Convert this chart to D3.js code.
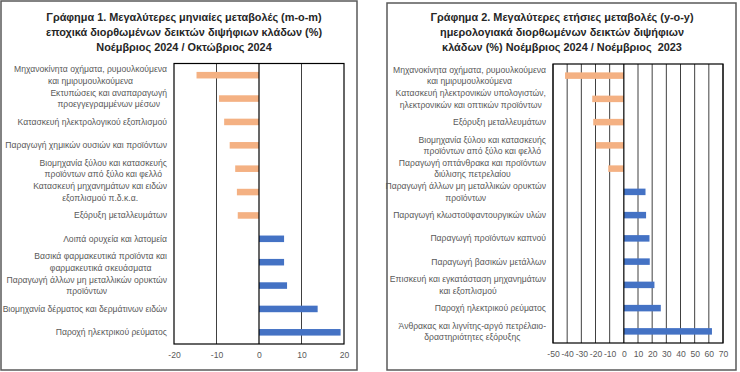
<!DOCTYPE html>
<html>
<head>
<meta charset="utf-8">
<script src="https://cdn.jsdelivr.net/npm/d3@7"></script>
<style>
  body { margin: 0; background: #fff; }
  svg { display: block; font-family: "Liberation Sans", Arial, sans-serif; }
</style>
</head>
<body>
<svg id="chart" width="740" height="372"></svg>
<script>
// Γράφημα 1 (m-o-m)
const cats1 = [
  ["Μηχανοκίνητα οχήματα, ρυμουλκούμενα", "και ημιρυμουλκούμενα"],
  ["Εκτυπώσεις και αναπαραγωγή", "προεγγεγραμμένων μέσων"],
  ["Κατασκευή ηλεκτρολογικού εξοπλισμού"],
  ["Παραγωγή χημικών ουσιών και προϊόντων"],
  ["Βιομηχανία ξύλου και κατασκευής", "προϊόντων από ξύλο και φελλό"],
  ["Κατασκευή μηχανημάτων και ειδών", "εξοπλισμού π.δ.κ.α."],
  ["Εξόρυξη μεταλλευμάτων"],
  ["Λοιπά ορυχεία και λατομεία"],
  ["Βασικά φαρμακευτικά προϊόντα και", "φαρμακευτικά σκευάσματα"],
  ["Παραγωγή άλλων μη μεταλλικών ορυκτών", "προϊόντων"],
  ["Βιομηχανία δέρματος και δερμάτινων ειδών"],
  ["Παροχή ηλεκτρικού ρεύματος"]
];
const vals1 = [-14.7, -9.4, -8.2, -6.9, -5.6, -5.2, -5.0, 5.9, 5.9, 6.6, 13.8, 19.2];
const ticks1 = [-20, -10, 0, 10, 20];
const title1 = [
  "Γράφημα 1. Μεγαλύτερες μηνιαίες μεταβολές (m-o-m)",
  "εποχικά διορθωμένων δεικτών διψήφιων κλάδων (%)",
  "Νοέμβριος 2024 / Οκτώβριος 2024"
];

// Γράφημα 2 (y-o-y)
const cats2 = [
  ["Μηχανοκίνητα οχήματα, ρυμουλκούμενα", "και ημιρυμουλκούμενα"],
  ["Κατασκευή ηλεκτρονικών υπολογιστών,", "ηλεκτρονικών και οπτικών προϊόντων"],
  ["Εξόρυξη μεταλλευμάτων"],
  ["Βιομηχανία ξύλου και κατασκευής", "προϊόντων από ξύλο και φελλό"],
  ["Παραγωγή οπτάνθρακα και προϊόντων", "διύλισης πετρελαίου"],
  ["Παραγωγή άλλων μη μεταλλικών ορυκτών", "προϊόντων"],
  ["Παραγωγή κλωστοϋφαντουργικών υλών"],
  ["Παραγωγή προϊόντων καπνού"],
  ["Παραγωγή βασικών μετάλλων"],
  ["Επισκευή και εγκατάσταση μηχανημάτων", "και εξοπλισμού"],
  ["Παροχή ηλεκτρικού ρεύματος"],
  ["Άνθρακας και λιγνίτης-αργό πετρέλαιο-", "δραστηριότητες εξόρυξης"]
];
const vals2 = [-41.5, -22.3, -21.6, -19.7, -11.0, 15.3, 15.7, 18.1, 18.3, 21.6, 26.1, 62.2];
const ticks2 = [-50, -40, -30, -20, -10, 0, 10, 20, 30, 40, 50, 60, 70];
const title2 = [
  "Γράφημα 2. Μεγαλύτερες ετήσιες μεταβολές (y-o-y)",
  "ημερολογιακά διορθωμένων δεικτών διψήφιων",
  "κλάδων (%) Νοέμβριος 2024 / Νοέμβριος  2023"
];

const svg = d3.select("#chart");

function drawPanel(cfg) {
  const g = svg.append("g");

  g.append("rect")
    .attr("x", cfg.box[0]).attr("y", cfg.box[1])
    .attr("width", cfg.box[2]).attr("height", cfg.box[3])
    .attr("fill", "#fff").attr("stroke", "#595959").attr("stroke-width", 1.5);

  g.append("text")
    .attr("x", cfg.titleX).attr("y", cfg.titleY)
    .attr("text-anchor", "middle")
    .attr("font-size", 10.9).attr("font-weight", "bold").attr("fill", "#262626")
    .style("white-space", "pre")
    .selectAll("tspan").data(cfg.title).join("tspan")
    .attr("x", cfg.titleX)
    .attr("dy", (d, i) => i ? 15 : 0)
    .text(d => d);

  const x = d3.scaleLinear().domain(d3.extent(cfg.ticks)).range([cfg.x0, cfg.x1]);
  const y = d3.scaleBand().domain(d3.range(cfg.cats.length))
    .range([cfg.y0, cfg.y1]).paddingInner(0.72).paddingOuter(0.36);

  // gridlines
  g.append("g").selectAll("line")
    .data(cfg.grid).join("line")
    .attr("x1", d => x(d)).attr("x2", d => x(d))
    .attr("y1", cfg.y0).attr("y2", cfg.y1)
    .attr("stroke", "#404040").attr("stroke-width", 1);

  // bars
  g.append("g").selectAll("rect")
    .data(cfg.vals).join("rect")
    .attr("x", d => x(Math.min(0, d)))
    .attr("width", d => Math.abs(x(d) - x(0)))
    .attr("y", (d, i) => y(i))
    .attr("height", y.bandwidth())
    .attr("fill", d => d < 0 ? "#F4B183" : "#4472C4");

  // zero line
  g.append("line")
    .attr("x1", x(0)).attr("x2", x(0))
    .attr("y1", cfg.y0).attr("y2", cfg.y1)
    .attr("stroke", "#000").attr("stroke-width", 1.2);

  // plot frame
  g.append("rect")
    .attr("x", cfg.x0).attr("y", cfg.y0)
    .attr("width", cfg.x1 - cfg.x0).attr("height", cfg.y1 - cfg.y0)
    .attr("fill", "none").attr("stroke", "#000").attr("stroke-width", 1.2);

  // x axis
  const axis = g.append("g")
    .attr("transform", `translate(0,${cfg.y1})`)
    .call(d3.axisBottom(x).tickValues(cfg.ticks).tickSize(0).tickPadding(8).tickFormat(d => String(d)));
  axis.select(".domain").remove();
  axis.selectAll("text")
    .attr("font-family", "Liberation Sans, Arial, sans-serif")
    .attr("font-size", 8.6).attr("fill", "#595959");

  // category labels (block right-aligned, lines centred)
  const labels = g.append("g").attr("font-size", 8.6).attr("fill", "#595959");
  cfg.cats.forEach((lines, i) => {
    const cy = y(i) + y.bandwidth() / 2;
    const t = labels.append("text").attr("text-anchor", "middle");
    const spans = t.selectAll("tspan").data(lines).join("tspan").text(d => d);
    const w = d3.max(spans.nodes(), n => n.getComputedTextLength());
    const cx = cfg.labelRight - w / 2;
    const lh = 11.5;
    spans.attr("x", cx)
      .attr("y", (d, j) => cy + (j - (lines.length - 1) / 2) * lh)
      .attr("dy", "0.35em");
  });
}

drawPanel({
  box: [1, 1, 356, 369],
  title: title1, titleX: 184, titleY: 21,
  cats: cats1, vals: vals1, ticks: ticks1, grid: [-10, 10],
  x0: 174, x1: 344, y0: 63.5, y1: 344,
  labelRight: 167
});

drawPanel({
  box: [387, 3, 349, 367],
  title: title2, titleX: 562, titleY: 21,
  cats: cats2, vals: vals2, ticks: ticks2, grid: ticks2.filter(d => d !== 0),
  x0: 553, x1: 723, y0: 64, y1: 343,
  labelRight: 546
});
</script>
</body>
</html>
